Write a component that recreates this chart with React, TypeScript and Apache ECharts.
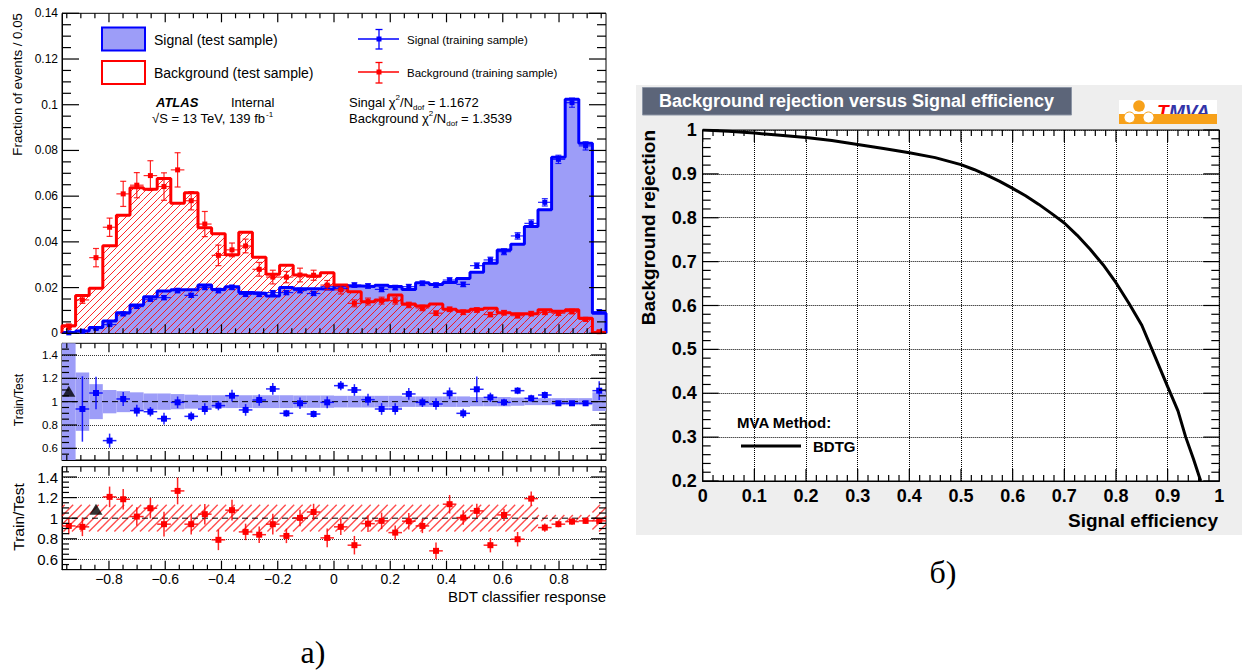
import React, { useEffect, useRef } from 'react';
import * as echarts from 'echarts';

// ---------------- data ----------------
const X_MIN = -0.967;
const X_MAX = 0.967;
const N_BINS = 40;

const xTickMajor = [-0.8, -0.6, -0.4, -0.2, 0, 0.2, 0.4, 0.6, 0.8];
const xTickMinor = [-0.95, -0.9, -0.85, -0.75, -0.7, -0.65, -0.55, -0.5, -0.45, -0.35, -0.3, -0.25, -0.15, -0.1, -0.05, 0.05, 0.1, 0.15, 0.25, 0.3, 0.35, 0.45, 0.5, 0.55, 0.65, 0.7, 0.75, 0.85, 0.9, 0.95];
const mainYMajor = [0, 0.02, 0.04, 0.06, 0.08, 0.1, 0.12, 0.14];
const ratioTickMajor = [0.6, 0.8, 1, 1.2, 1.4];
const ratioTickMinor = [0.55, 0.65, 0.7, 0.75, 0.85, 0.9, 0.95, 1.05, 1.1, 1.15, 1.25, 1.3, 1.35, 1.45];
const ratioGridLines = [0.6, 0.8, 1.2, 1.4];
const rocXMajor = [0, 0.1, 0.2, 0.3, 0.4, 0.5, 0.6, 0.7, 0.8, 0.9, 1];
const rocYMajor = [0.2, 0.3, 0.4, 0.5, 0.6, 0.7, 0.8, 0.9, 1];

const sigTest = [0.0004, 0.001, 0.0025, 0.0054, 0.009, 0.0124, 0.016, 0.0185, 0.019, 0.019,
  0.0211, 0.0192, 0.0204, 0.0178, 0.0175, 0.0163, 0.02, 0.0195, 0.0195, 0.0193,
  0.0207, 0.0207, 0.0205, 0.021, 0.0205, 0.0192, 0.0221, 0.0214, 0.0222, 0.024,
  0.0267, 0.0306, 0.0364, 0.039, 0.0467, 0.054, 0.077, 0.1024, 0.0831, 0.0088];
const bkgTest = [0.0033, 0.0165, 0.0197, 0.0383, 0.0516, 0.0637, 0.063, 0.0677, 0.0569, 0.0615,
  0.0462, 0.0435, 0.0344, 0.0442, 0.0333, 0.0258, 0.0298, 0.0255, 0.025, 0.0265,
  0.0211, 0.0182, 0.0138, 0.0146, 0.0168, 0.0128, 0.0119, 0.0128, 0.0105, 0.0098,
  0.0105, 0.011, 0.009, 0.0085, 0.0085, 0.0103, 0.0097, 0.0103, 0.0066, 0.0003];
const sigTrain = [0.0002, 0.0009, 0.0021, 0.0038, 0.0085, 0.0117, 0.0149, 0.0156, 0.0187, 0.0166,
  0.0201, 0.0187, 0.0201, 0.017, 0.017, 0.0178, 0.0178, 0.0187, 0.0174, 0.0204,
  0.0196, 0.0211, 0.0207, 0.0192, 0.02, 0.0204, 0.0219, 0.0211, 0.0233, 0.0214,
  0.0296, 0.0321, 0.0357, 0.0426, 0.0481, 0.0573, 0.0761, 0.1009, 0.082, 0.0095];
const sigTrainErr = [0.0003, 0.0004, 0.0005, 0.0006, 0.0008, 0.0008, 0.0009, 0.0009, 0.001, 0.0009,
  0.001, 0.001, 0.001, 0.0009, 0.0009, 0.0009, 0.0009, 0.001, 0.0009, 0.001,
  0.001, 0.001, 0.001, 0.001, 0.001, 0.001, 0.001, 0.001, 0.001, 0.001,
  0.0012, 0.0012, 0.0013, 0.0014, 0.0015, 0.0016, 0.0018, 0.002, 0.0018, 0.0008];
const bkgTrain = [0.0029, 0.0146, 0.0331, 0.0464, 0.061, 0.0648, 0.069, 0.0642, 0.0715, 0.058,
  0.0478, 0.0341, 0.0365, 0.0382, 0.028, 0.0246, 0.0246, 0.0255, 0.0254, 0.0211,
  0.019, 0.0131, 0.0139, 0.0143, 0.0143, 0.0124, 0.0111, 0.0088, 0.0105, 0.0092,
  0.0102, 0.0082, 0.009, 0.0077, 0.0086, 0.0092, 0.0088, 0.0095, 0.0061, 0.0007];
const bkgTrainErr = [0.0012, 0.0015, 0.004, 0.004, 0.0055, 0.0055, 0.0065, 0.006, 0.0075, 0.004,
  0.0055, 0.0045, 0.003, 0.003, 0.003, 0.003, 0.0025, 0.003, 0.0022, 0.002,
  0.0018, 0.0015, 0.0015, 0.0015, 0.0015, 0.0012, 0.0012, 0.001, 0.001, 0.001,
  0.001, 0.001, 0.001, 0.001, 0.001, 0.001, 0.001, 0.001, 0.0008, 0.0004];

const sigRatio = [null, 0.937, 1.074, 0.666, 1.023, 0.923, 0.914, 0.854, 0.994, 0.874,
  0.937, 0.966, 1.051, 0.929, 1.014, 1.109, 0.9, 0.986, 0.894, 0.994,
  1.137, 1.1, 1.017, 0.937, 0.937, 1.066, 0.994, 0.98, 1.071, 0.9,
  1.106, 1.037, 0.994, 1.094, 1.029, 1.057, 0.986, 0.986, 0.986, 1.094];
const sigRatioErr = [0, 0.28, 0.14, 0.06, 0.06, 0.05, 0.04, 0.05, 0.05, 0.04,
  0.05, 0.04, 0.05, 0.05, 0.05, 0.05, 0.03, 0.05, 0.03, 0.05,
  0.04, 0.05, 0.05, 0.05, 0.05, 0.05, 0.04, 0.05, 0.05, 0.04,
  0.11, 0.04, 0.03, 0.03, 0.03, 0.03, 0.02, 0.02, 0.02, 0.08];
const sigBand = [0.6, 0.25, 0.15, 0.1, 0.09, 0.08, 0.07, 0.07, 0.065, 0.06,
  0.055, 0.055, 0.055, 0.055, 0.055, 0.055, 0.055, 0.053, 0.053, 0.053,
  0.05, 0.05, 0.05, 0.05, 0.05, 0.045, 0.045, 0.045, 0.045, 0.045,
  0.04, 0.04, 0.04, 0.035, 0.03, 0.03, 0.03, 0.03, 0.03, 0.08];
const sigOverflow = [[0, 1.09]]; // [bin, marker height]

const bkgRatio = [0.925, 0.916, null, 1.207, 1.184, 1.016, 1.097, 0.942, 1.265, 0.942,
  1.039, 0.79, 1.078, 0.867, 0.84, 0.942, 0.828, 1.003, 1.06, 0.809,
  0.916, 0.738, 0.947, 0.974, 0.86, 0.971, 0.925, 0.683, 1.136, 1.006,
  1.071, 0.738, 1.032, 0.796, 1.19, 0.909, 0.942, 0.967, 0.974, 0.974];
const bkgRatioErr = [0.08, 0.09, 0, 0.1, 0.1, 0.09, 0.1, 0.12, 0.13, 0.1,
  0.1, 0.1, 0.1, 0.08, 0.08, 0.1, 0.07, 0.08, 0.08, 0.09,
  0.08, 0.09, 0.08, 0.08, 0.07, 0.08, 0.07, 0.08, 0.09, 0.07,
  0.07, 0.07, 0.06, 0.07, 0.07, 0.04, 0.03, 0.03, 0.03, 0.03];
const bkgBand = [0.13, 0.13, 0.13, 0.13, 0.13, 0.13, 0.13, 0.13, 0.13, 0.13,
  0.13, 0.13, 0.13, 0.13, 0.13, 0.13, 0.13, 0.13, 0.13, 0.13,
  0.13, 0.13, 0.13, 0.13, 0.13, 0.13, 0.13, 0.13, 0.13, 0.13,
  0.13, 0.13, 0.13, 0.13, 0.13, 0.03, 0.03, 0.03, 0.03, 0.13];
const bkgOverflow = [[2, 1.087]];

const rocEff = [0, 0.05, 0.1, 0.15, 0.2, 0.25, 0.3, 0.35, 0.4, 0.45, 0.5, 0.525, 0.55, 0.575, 0.6, 0.625, 0.65, 0.675, 0.7, 0.725, 0.75, 0.775, 0.8, 0.825, 0.85, 0.875, 0.9, 0.92, 0.935, 0.95, 0.964];
const rocRej = [1.0, 0.997, 0.993, 0.988, 0.983, 0.976, 0.967, 0.958, 0.948, 0.937, 0.921, 0.91, 0.897, 0.883, 0.867, 0.85, 0.831, 0.81, 0.788, 0.76, 0.728, 0.693, 0.652, 0.605, 0.555, 0.485, 0.415, 0.36, 0.3, 0.25, 0.2];

// ---------------- helpers ----------------
const BIN_W = (X_MAX - X_MIN) / N_BINS;
const edges = Array.from({ length: N_BINS + 1 }, (_, i) => X_MIN + i * BIN_W);
const centers = Array.from({ length: N_BINS }, (_, i) => X_MIN + (i + 0.5) * BIN_W);
const minorBetween = (majors: number[], n: number) => {
  const out: number[] = [];
  for (let i = 0; i < majors.length - 1; i++) {
    const step = (majors[i + 1] - majors[i]) / n;
    for (let k = 1; k < n; k++) out.push(majors[i] + k * step);
  }
  return out;
};
const mainYMinor = minorBetween(mainYMajor, 4);
const rocXMinor = minorBetween(rocXMajor, 5);
const rocYMinor = minorBetween(rocYMajor, 5);

const FONT = 'Liberation Sans, Arial, Helvetica, sans-serif';
const BLUE = '#0000ff';
const RED = '#ff0000';
const BLUE_FILL = '#9d9df8';

const GRIDS = [
  { left: 62, top: 13.3, width: 544, height: 320 },
  { left: 62, top: 343.3, width: 544, height: 116.7 },
  { left: 62, top: 466.7, width: 544, height: 103 },
  { left: 702.7, top: 130, width: 516.6, height: 351 },
];

function hatchLines(X0: number, YT: number, X1: number, YB: number, S: number, color: string, lw: number, opacity = 1) {
  const out: any[] = [];
  const k0 = Math.ceil((X0 + YT) / S);
  const k1 = Math.floor((X1 + YB) / S);
  for (let k = k0; k <= k1; k++) {
    const c = k * S;
    const xs = Math.max(X0, c - YB);
    const xe = Math.min(X1, c - YT);
    if (xe > xs) {
      out.push({ type: 'line', shape: { x1: xs, y1: c - xs, x2: xe, y2: c - xe }, style: { stroke: color, lineWidth: lw, opacity } });
    }
  }
  return out;
}

function stepPts(vals: number[]) {
  const pts: number[][] = [[edges[0], 0]];
  vals.forEach((v, i) => { pts.push([edges[i], v], [edges[i + 1], v]); });
  pts.push([edges[N_BINS], 0]);
  return pts;
}

function hatchRender(color: string, S: number, lw: number, opacity: number) {
  return (params: any, api: any) => {
    const a = api.coord([api.value(0), api.value(3)]);
    const b = api.coord([api.value(1), api.value(2)]);
    return { type: 'group', children: hatchLines(a[0], a[1], b[0], b[1], S, color, lw, opacity) };
  };
}

function rectRender(color: string) {
  return (params: any, api: any) => {
    const a = api.coord([api.value(0), api.value(3)]);
    const b = api.coord([api.value(1), api.value(2)]);
    return { type: 'rect', shape: { x: a[0], y: a[1], width: b[0] - a[0], height: b[1] - a[1] }, style: { fill: color } };
  };
}

function errRender(color: string, caps: boolean, size: number, lw: number) {
  return (params: any, api: any) => {
    const x = api.value(0), y = api.value(1), e = api.value(2);
    const p = api.coord([x, y]);
    const xl = api.coord([x - BIN_W / 2, y])[0];
    const xr = api.coord([x + BIN_W / 2, y])[0];
    const yt = api.coord([x, y + e])[1];
    const yb = api.coord([x, y - e])[1];
    const st = { stroke: color, lineWidth: lw, opacity: 0.85 };
    const children: any[] = [
      { type: 'line', shape: { x1: xl, y1: p[1], x2: xr, y2: p[1] }, style: st },
      { type: 'line', shape: { x1: p[0], y1: yt, x2: p[0], y2: yb }, style: st },
    ];
    if (caps) {
      children.push({ type: 'line', shape: { x1: p[0] - 3, y1: yt, x2: p[0] + 3, y2: yt }, style: st });
      children.push({ type: 'line', shape: { x1: p[0] - 3, y1: yb, x2: p[0] + 3, y2: yb }, style: st });
    }
    children.push({ type: 'rect', shape: { x: p[0] - size / 2, y: p[1] - size / 2, width: size, height: size }, style: { fill: color } });
    return { type: 'group', children };
  };
}

// ROOT-style inward ticks on all four sides. Each item is anchored at a point strictly
// inside the frame (like the error-bar items); the frame edges come from the axes' scales.
function tickRender(xr: number[], yr: number[]) {
  return (params: any, api: any) => {
    const xv = api.value(0), yv = api.value(1), len = api.value(2), orient = api.value(3);
    const st = { stroke: '#000', lineWidth: 1.2 };
    if (orient < 0.5) {
      const x = api.coord([xv, yv])[0];
      const yb = api.coord([xv, yr[0]])[1];
      const yt = api.coord([xv, yr[1]])[1];
      return { type: 'group', children: [
        { type: 'line', shape: { x1: x, y1: yb, x2: x, y2: yb - len }, style: st },
        { type: 'line', shape: { x1: x, y1: yt, x2: x, y2: yt + len }, style: st },
      ] };
    }
    const y = api.coord([xv, yv])[1];
    const xl = api.coord([xr[0], yv])[0];
    const xrr = api.coord([xr[1], yv])[0];
    return { type: 'group', children: [
      { type: 'line', shape: { x1: xl, y1: y, x2: xl + len, y2: y }, style: st },
      { type: 'line', shape: { x1: xrr, y1: y, x2: xrr - len, y2: y }, style: st },
    ] };
  };
}

const fmtX = (v: number) => {
  const r = Math.round(v * 10) / 10;
  if (r === 0) return '0';
  return (r < 0 ? '\u2212' : '') + String(Math.abs(r));
};

function buildOption() {
  const gridBase = { show: true, borderColor: '#000', borderWidth: 1, outerBoundsMode: 'none' };
  const grid: any[] = GRIDS.map((g, i) => ({ ...gridBase, ...g, backgroundColor: i === 3 ? '#ffffff' : 'transparent' }));
  const xAxis: any[] = [];
  const yAxis: any[] = [];
  const line = { show: true, onZero: false, lineStyle: { color: '#000', width: 1 } };
  const noTick = { show: false };

  for (let g = 0; g < 3; g++) {
    xAxis.push({ gridIndex: g, type: 'value', min: X_MIN, max: X_MAX, position: 'bottom', axisLine: line, axisTick: noTick,
      splitLine: { show: false },
      axisLabel: { show: g === 2, customValues: xTickMajor, formatter: fmtX, fontSize: 14, fontFamily: FONT, color: '#000', margin: 2 } });
  }
  yAxis.push({ gridIndex: 0, type: 'value', min: 0, max: 0.14, interval: 0.02, position: 'left', axisLine: line, axisTick: noTick,
    axisLabel: { fontSize: 12, fontFamily: FONT, color: '#000', margin: 4 }, splitLine: { show: false } });
  for (let g = 1; g < 3; g++) {
    yAxis.push({ gridIndex: g, type: 'value', min: 0.5, max: 1.5, position: 'left', axisLine: line, axisTick: noTick,
      axisLabel: { customValues: ratioTickMajor, fontSize: g === 1 ? 11.5 : 15, fontFamily: FONT, color: '#000', margin: 4 },
      splitLine: { show: false } });
  }
  xAxis.push({ gridIndex: 3, type: 'value', min: 0, max: 1, interval: 0.1, position: 'bottom', axisLine: line, axisTick: noTick,
    axisLabel: { fontSize: 18, fontWeight: 'bold', fontFamily: FONT, color: '#000', margin: 6 },
    splitLine: { show: true, lineStyle: { type: 'dotted', color: '#000', width: 1 } } });
  yAxis.push({ gridIndex: 3, type: 'value', min: 0.2, max: 1, interval: 0.1, position: 'left', axisLine: line, axisTick: noTick,
    axisLabel: { fontSize: 18, fontWeight: 'bold', fontFamily: FONT, color: '#000', margin: 6 },
    splitLine: { show: true, lineStyle: { type: 'dotted', color: '#000', width: 1 } } });

  const on = (g: number) => ({ xAxisIndex: g, yAxisIndex: g });
  const binIdx = Array.from({ length: N_BINS }, (_, i) => i);

  const tickSeries = (g: number, xr: number[], yr: number[], xMaj: number[], xMin: number[], yMaj: number[], yMin: number[], xl: number[], yl: number[]) => {
    const xMid = (xr[0] + xr[1]) / 2;
    const yMid = (yr[0] + yr[1]) / 2;
    const inX = (v: number) => Math.min(xr[1] - 1e-6, Math.max(xr[0] + 1e-6, v));
    const inY = (v: number) => Math.min(yr[1] - 1e-6, Math.max(yr[0] + 1e-6, v));
    return {
      type: 'custom', ...on(g), renderItem: tickRender(xr, yr), encode: { x: 0, y: 1 }, z: 30, silent: true,
      data: [
        ...xMaj.map(v => [inX(v), yMid, xl[0], 0]),
        ...xMin.map(v => [inX(v), yMid, xl[1], 0]),
        ...yMaj.map(v => [xMid, inY(v), yl[0], 1]),
        ...yMin.map(v => [xMid, inY(v), yl[1], 1]),
      ],
    };
  };

  const series: any[] = [
    // main panel
    { type: 'line', ...on(0), data: stepPts(sigTest), symbol: 'none', lineStyle: { opacity: 0, width: 0 }, areaStyle: { color: BLUE_FILL, opacity: 1 }, z: 1, silent: true },
    { type: 'custom', ...on(0), renderItem: hatchRender(RED, 7, 1, 0.85), encode: { x: [0, 1], y: [2, 3] },
      data: binIdx.map(i => [edges[i], edges[i + 1], 0, bkgTest[i]]), z: 2, silent: true },
    { type: 'line', ...on(0), data: stepPts(sigTest), symbol: 'none', lineStyle: { color: BLUE, width: 3 }, z: 3, silent: true },
    { type: 'line', ...on(0), data: stepPts(bkgTest), symbol: 'none', lineStyle: { color: RED, width: 3 }, z: 3, silent: true },
    { type: 'custom', ...on(0), renderItem: errRender(BLUE, true, 5, 1.2), encode: { x: 0, y: 1 },
      data: binIdx.map(i => [centers[i], sigTrain[i], sigTrainErr[i]]), z: 5, silent: true },
    { type: 'custom', ...on(0), renderItem: errRender(RED, true, 5, 1.2), encode: { x: 0, y: 1 },
      data: binIdx.map(i => [centers[i], bkgTrain[i], bkgTrainErr[i]]), z: 5, silent: true },
    tickSeries(0, [X_MIN, X_MAX], [0, 0.14], xTickMajor, xTickMinor, mainYMajor, mainYMinor, [9, 5], [17, 9]),

    // signal ratio panel
    { type: 'custom', ...on(1), renderItem: rectRender(BLUE_FILL), encode: { x: [0, 1], y: [2, 3] },
      data: binIdx.map(i => [edges[i], edges[i + 1], Math.max(0.5, 1 - sigBand[i]), Math.min(1.5, 1 + sigBand[i])]), z: 1, silent: true },
    { type: 'line', ...on(1), data: [[X_MIN, 1], [X_MAX, 1]], symbol: 'none', lineStyle: { color: '#000', width: 1, type: [6, 4] }, z: 3, silent: true,
      markLine: { silent: true, symbol: 'none', label: { show: false }, lineStyle: { color: '#000', type: 'dotted', width: 1, opacity: 0.8 }, data: ratioGridLines.map(v => ({ yAxis: v })) } },
    { type: 'custom', ...on(1), renderItem: errRender(BLUE, false, 6, 1.5), encode: { x: 0, y: 1 },
      data: binIdx.filter(i => sigRatio[i] != null).map(i => [centers[i], sigRatio[i], sigRatioErr[i]]), z: 5, silent: true },
    { type: 'scatter', ...on(1), data: sigOverflow.map(([b, y]) => [centers[b], y]), symbol: 'triangle', symbolSize: [13, 11], itemStyle: { color: '#000' }, z: 6, silent: true },
    tickSeries(1, [X_MIN, X_MAX], [0.5, 1.5], xTickMajor, xTickMinor, ratioTickMajor, ratioTickMinor, [9, 5], [15, 7]),

    // background ratio panel
    { type: 'custom', ...on(2), renderItem: hatchRender(RED, 8.5, 1.4, 0.7), encode: { x: [0, 1], y: [2, 3] },
      data: binIdx.map(i => [edges[i], edges[i + 1], 1 - bkgBand[i], 1 + bkgBand[i]]), z: 1, silent: true },
    { type: 'line', ...on(2), data: [[X_MIN, 1], [X_MAX, 1]], symbol: 'none', lineStyle: { color: '#000', width: 1, type: [6, 4] }, z: 3, silent: true,
      markLine: { silent: true, symbol: 'none', label: { show: false }, lineStyle: { color: '#000', type: 'dotted', width: 1, opacity: 0.8 }, data: ratioGridLines.map(v => ({ yAxis: v })) } },
    { type: 'custom', ...on(2), renderItem: errRender(RED, false, 6, 1.5), encode: { x: 0, y: 1 },
      data: binIdx.filter(i => bkgRatio[i] != null).map(i => [centers[i], bkgRatio[i], bkgRatioErr[i]]), z: 5, silent: true },
    { type: 'scatter', ...on(2), data: bkgOverflow.map(([b, y]) => [centers[b], y]), symbol: 'triangle', symbolSize: [13, 11], itemStyle: { color: '#000' }, z: 6, silent: true },
    tickSeries(2, [X_MIN, X_MAX], [0.5, 1.5], xTickMajor, xTickMinor, ratioTickMajor, ratioTickMinor, [9, 5], [15, 7]),

    // ROC
    { type: 'line', ...on(3), data: rocEff.map((e, i) => [e, rocRej[i]]), symbol: 'none', lineStyle: { color: '#000', width: 3 }, z: 5, silent: true },
    tickSeries(3, [0, 1], [0.2, 1], rocXMajor, rocXMinor, rocYMajor, rocYMinor, [12, 6], [16, 8]),
  ];

  const T = (x: number, y: number, text: string, extra: any = {}, el: any = {}) => ({
    type: 'text', x, y, z: 20, silent: true, ...el,
    style: { text, fontFamily: FONT, fontSize: 13, fill: '#000', align: 'left', verticalAlign: 'middle', ...extra },
  });

  const richChi = (label: string, val: string) => `{a|${label} χ}{sup|2}{a|/N}{sub|dof}{a| = ${val}}`;
  const chiRich = {
    a: { fontSize: 13, fontFamily: FONT, fill: '#000', lineHeight: 18, verticalAlign: 'middle' },
    sup: { fontSize: 8, fontFamily: FONT, fill: '#000', lineHeight: 18, verticalAlign: 'top' },
    sub: { fontSize: 8, fontFamily: FONT, fill: '#000', lineHeight: 18, verticalAlign: 'bottom' },
  };

  const elements: any[] = [
    // ROC panel background
    { type: 'rect', z: -100, silent: true, shape: { x: 636, y: 85, width: 606, height: 450 }, style: { fill: '#eeeeee' } },

    // left: legend
    { type: 'rect', z: 20, silent: true, shape: { x: 102, y: 27.5, width: 43, height: 23 }, style: { fill: BLUE_FILL, stroke: BLUE, lineWidth: 2 } },
    { type: 'rect', z: 20, silent: true, shape: { x: 102, y: 61, width: 43, height: 23 }, style: { fill: '#fff', stroke: RED, lineWidth: 2 } },
    { type: 'group', z: 21, silent: true, children: hatchLines(103, 62, 144, 83, 7, RED, 1, 0.85) },
    T(154, 39.5, 'Signal (test sample)', { fontSize: 14 }),
    T(154, 72.5, 'Background (test sample)', { fontSize: 14 }),

    { type: 'line', z: 20, silent: true, shape: { x1: 358, y1: 39, x2: 399, y2: 39 }, style: { stroke: BLUE, lineWidth: 1.3 } },
    { type: 'line', z: 20, silent: true, shape: { x1: 379, y1: 29.5, x2: 379, y2: 49 }, style: { stroke: BLUE, lineWidth: 1.3 } },
    { type: 'line', z: 20, silent: true, shape: { x1: 375.5, y1: 29.5, x2: 382.5, y2: 29.5 }, style: { stroke: BLUE, lineWidth: 1.3 } },
    { type: 'line', z: 20, silent: true, shape: { x1: 375.5, y1: 49, x2: 382.5, y2: 49 }, style: { stroke: BLUE, lineWidth: 1.3 } },
    { type: 'rect', z: 20, silent: true, shape: { x: 376.5, y: 36.5, width: 5, height: 5 }, style: { fill: BLUE } },
    T(407, 39.5, 'Signal (training sample)', { fontSize: 11.5 }),

    { type: 'line', z: 20, silent: true, shape: { x1: 358, y1: 72, x2: 399, y2: 72 }, style: { stroke: RED, lineWidth: 1.3 } },
    { type: 'line', z: 20, silent: true, shape: { x1: 379, y1: 62.5, x2: 379, y2: 83 }, style: { stroke: RED, lineWidth: 1.3 } },
    { type: 'line', z: 20, silent: true, shape: { x1: 375.5, y1: 62.5, x2: 382.5, y2: 62.5 }, style: { stroke: RED, lineWidth: 1.3 } },
    { type: 'line', z: 20, silent: true, shape: { x1: 375.5, y1: 83, x2: 382.5, y2: 83 }, style: { stroke: RED, lineWidth: 1.3 } },
    { type: 'rect', z: 20, silent: true, shape: { x: 376.5, y: 69.5, width: 5, height: 5 }, style: { fill: RED } },
    T(407, 72.5, 'Background (training sample)', { fontSize: 11.5 }),

    T(156, 102, 'ATLAS', { fontSize: 13, fontWeight: 'bold', fontStyle: 'italic' }),
    T(231, 102, 'Internal', { fontSize: 13 }),
    T(152, 118.5, '\u221AS = 13 TeV, 139 fb', { fontSize: 13 }),
    T(266, 114, '-1', { fontSize: 8 }),

    { type: 'text', x: 349, y: 102, z: 20, silent: true, style: { text: richChi('Singal', '1.1672'), rich: chiRich, align: 'left', verticalAlign: 'middle' } },
    { type: 'text', x: 349, y: 118.5, z: 20, silent: true, style: { text: richChi('Background', '1.3539'), rich: chiRich, align: 'left', verticalAlign: 'middle' } },

    T(17, 13, 'Fraction of events / 0.05', { fontSize: 13.3, align: 'right' }, { rotation: Math.PI / 2 }),
    T(19, 400, 'Train/Test', { fontSize: 12, align: 'center' }, { rotation: Math.PI / 2 }),
    T(18, 517, 'Train/Test', { fontSize: 15.5, align: 'center' }, { rotation: Math.PI / 2 }),
    T(606, 596, 'BDT classifier response', { fontSize: 15, align: 'right' }),

    // ROC title box
    { type: 'rect', z: 20, silent: true, shape: { x: 642.5, y: 87.5, width: 429, height: 27.5 }, style: { fill: '#5c6579', stroke: '#8c95a5', lineWidth: 1 } },
    T(659, 101, 'Background rejection versus Signal efficiency', { fontSize: 18, fontWeight: 'bold', fill: '#ffffff' }),

    // TMVA logo
    { type: 'rect', z: 20, silent: true, shape: { x: 1119, y: 100, width: 98, height: 24 }, style: { fill: '#ffffff' } },
    { type: 'rect', z: 21, silent: true, shape: { x: 1119, y: 114, width: 98, height: 10 }, style: { fill: '#f7a11a' } },
    { type: 'circle', z: 22, silent: true, shape: { cx: 1139, cy: 106, r: 5.8 }, style: { fill: '#f7a11a' } },
    { type: 'circle', z: 22, silent: true, shape: { cx: 1129.5, cy: 117.5, r: 5.5 }, style: { fill: '#ffffff', stroke: '#f7a11a', lineWidth: 1 } },
    { type: 'circle', z: 22, silent: true, shape: { cx: 1148.5, cy: 117.5, r: 5.5 }, style: { fill: '#ffffff', stroke: '#f7a11a', lineWidth: 1 } },
    T(1157, 111, 'T', { fontSize: 19, fontWeight: 'bold', fontStyle: 'italic', fill: '#ff0000' }),
    T(1169, 111, 'MVA', { fontSize: 19, fontWeight: 'bold', fontStyle: 'italic', fill: '#3333a8' }),

    // ROC axis titles
    T(648, 130, 'Background rejection', { fontSize: 19, fontWeight: 'bold', align: 'right' }, { rotation: Math.PI / 2 }),
    T(1218, 520, 'Signal efficiency', { fontSize: 19, fontWeight: 'bold', align: 'right' }),

    // ROC legend
    T(737, 422, 'MVA Method:', { fontSize: 15, fontWeight: 'bold' }),
    { type: 'line', z: 20, silent: true, shape: { x1: 741, y1: 446, x2: 801, y2: 446 }, style: { stroke: '#000', lineWidth: 3 } },
    T(813, 446, 'BDTG', { fontSize: 15, fontWeight: 'bold' }),

    // panel labels
    T(313, 652, 'а)', { fontSize: 32, fontFamily: 'Liberation Serif, DejaVu Serif, serif', align: 'center' }),
    T(943, 572, 'б)', { fontSize: 32, fontFamily: 'Liberation Serif, DejaVu Serif, serif', align: 'center' }),
  ];

  return {
    animation: false,
    backgroundColor: '#ffffff',
    grid,
    xAxis,
    yAxis,
    series,
    graphic: { elements },
  };
}

export default function App() {
  const ref = useRef<HTMLDivElement>(null);
  useEffect(() => {
    const chart = echarts.init(ref.current!, null, { renderer: 'svg' });
    chart.setOption(buildOption() as any);
    return () => chart.dispose();
  }, []);
  return (
    <div
      ref={ref}
      style={{ position: 'absolute', left: 0, top: 0, width: 1254, height: 671, background: '#ffffff' }}
    />
  );
}
